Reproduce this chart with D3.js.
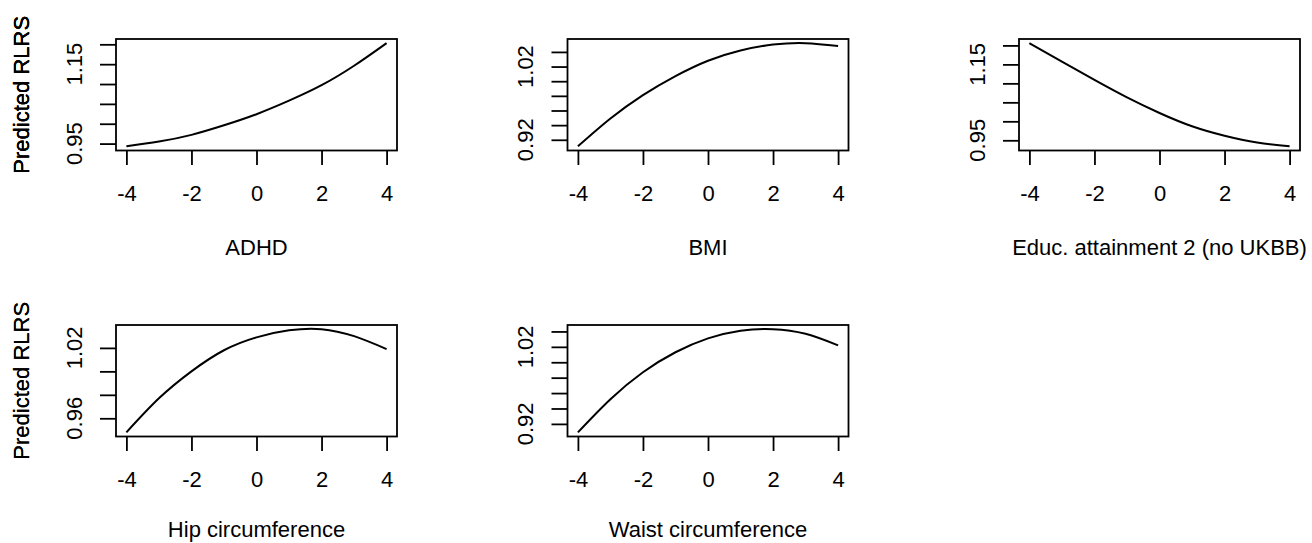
<!DOCTYPE html>
<html lang="en">
<head>
    <meta charset="UTF-8">
    <title>Predicted RLRS by PRS</title>
    <script src="https://d3js.org/d3.v7.min.js"></script>
    <style>
        body { margin: 0; background: #fff; }
        svg { display: block; font-family: "Liberation Sans", Arial, sans-serif; }
        text { fill: #000; }
    </style>
</head>
<body>
    <svg width="1312" height="543"></svg>
    <script>
        // x grid shared by every panel (standardised score)
        const xValues = [-4, -3, -2, -1, 0, 1, 2, 3, 4];
        const xTicks = [-4, -2, 0, 2, 4];

        // predicted RLRS
        const adhd  = [0.943, 0.955, 0.972, 0.996, 1.024, 1.058, 1.097, 1.146, 1.203];
        const bmi   = [0.911, 0.949, 0.981, 1.007, 1.028, 1.042, 1.050, 1.052, 1.048];
        const educ  = [1.206, 1.157, 1.109, 1.063, 1.022, 0.987, 0.962, 0.944, 0.934];
        const hip   = [0.948, 0.977, 1.000, 1.018, 1.029, 1.035, 1.036, 1.030, 1.019];
        const waist = [0.909, 0.952, 0.987, 1.013, 1.031, 1.041, 1.043, 1.037, 1.022];

        const panelNames = ["ADHD", "BMI", "Educ. attainment 2 (no UKBB)", "Hip circumference", "Waist circumference"];
        const panelSeries = [adhd, bmi, educ, hip, waist];
        const panelYTicks = [
            [0.95, 1.00, 1.05, 1.10, 1.15, 1.20],
            [0.92, 0.94, 0.96, 0.98, 1.00, 1.02, 1.04],
            [0.95, 1.00, 1.05, 1.10, 1.15, 1.20],
            [0.96, 0.98, 1.00, 1.02],
            [0.92, 0.94, 0.96, 0.98, 1.00, 1.02, 1.04]
        ];
        const panelYLabels = [
            ["0.95", "1.15"],
            ["0.92", "1.02"],
            ["0.95", "1.15"],
            ["0.96", "1.02"],
            ["0.92", "1.02"]
        ];
        const yTitle = "Predicted RLRS";

        const svg = d3.select("svg");
        const colLeft = [116, 567.5, 1019];
        const rowTop = [39, 325];
        const titleOffset = [104, 100];
        const pw = 281, ph = 111.5;
        const fontSize = 22;

        panelSeries.forEach((series, i) => {
            const row = Math.floor(i / 3);
            const left = colLeft[i % 3];
            const top = rowTop[row];
            const g = svg.append("g").attr("transform", `translate(${left},${top})`);

            // R style 4% padding on each side
            const xs = d3.extent(xValues), ys = d3.extent(series);
            const xPad = (xs[1] - xs[0]) * 0.04, yPad = (ys[1] - ys[0]) * 0.04;
            const x = d3.scaleLinear().domain([xs[0] - xPad, xs[1] + xPad]).range([0, pw]);
            const y = d3.scaleLinear().domain([ys[0] - yPad, ys[1] + yPad]).range([ph, 0]);

            // x axis
            const xAxis = g.append("g").attr("transform", `translate(0,${ph})`)
                .call(d3.axisBottom(x).tickValues(xTicks).tickSize(14.5).tickFormat(d => d));
            xAxis.select(".domain").remove();

            // y axis
            const yAxis = g.append("g")
                .call(d3.axisLeft(y).tickValues(panelYTicks[i]).tickSize(16).tickFormat(""));
            yAxis.select(".domain").remove();

            g.selectAll(".tick line").attr("stroke", "#000").attr("stroke-width", 1.8);
            xAxis.selectAll("text").attr("font-size", fontSize).attr("fill", "#000")
                .attr("font-family", "Liberation Sans, Arial, sans-serif")
                .attr("dy", null).attr("y", 50.5);

            g.selectAll("text.ylab")
                .data(panelYLabels[i])
                .enter().append("text")
                .attr("class", "ylab")
                .attr("transform", d => `translate(-34.5,${y(+d)}) rotate(-90)`)
                .attr("text-anchor", "middle")
                .attr("font-size", fontSize)
                .text(d => d);

            // box
            g.append("rect")
                .attr("width", pw).attr("height", ph)
                .attr("fill", "none").attr("stroke", "#000").attr("stroke-width", 1.8);

            // fitted curve
            const line = d3.line()
                .x((d, j) => x(xValues[j]))
                .y(d => y(d))
                .curve(d3.curveNatural);
            g.append("path")
                .datum(series)
                .attr("d", line)
                .attr("fill", "none")
                .attr("stroke", "#000")
                .attr("stroke-width", 2);

            // titles
            g.append("text")
                .attr("x", pw / 2).attr("y", ph + titleOffset[row])
                .attr("text-anchor", "middle")
                .attr("font-size", fontSize)
                .text(panelNames[i]);

            g.append("text")
                .attr("transform", `translate(${29 - left},${ph / 2}) rotate(-90)`)
                .attr("text-anchor", "middle")
                .attr("font-size", fontSize)
                .text(yTitle);
        });
    </script>
</body>
</html>
